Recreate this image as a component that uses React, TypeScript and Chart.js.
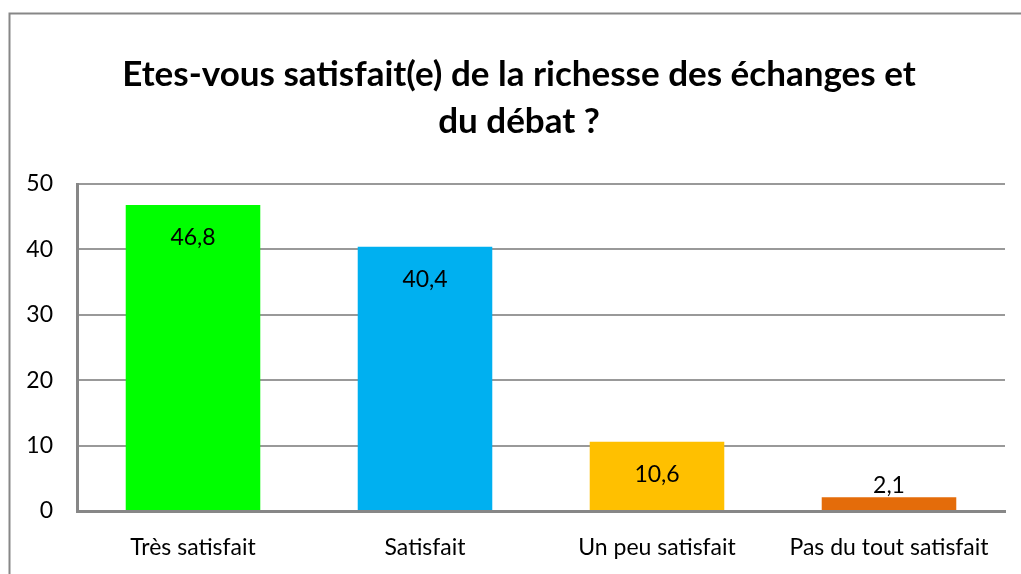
import React, { useEffect, useRef } from "react";
import { Chart, registerables } from "chart.js";

Chart.register(...registerables);

const titleLines = ["Etes-vous satisfait(e) de la richesse des échanges et", "du débat ?"];
const categories = ["Très satisfait", "Satisfait", "Un peu satisfait", "Pas du tout satisfait"];
const values = [46.8, 40.4, 10.6, 2.1];
const valueLabels = ["46,8", "40,4", "10,6", "2,1"];
const barColors = ["#00FF00", "#00B0F0", "#FFC000", "#E46C0A"];
const yTicks = [0, 10, 20, 30, 40, 50];

const FONT = "Lato, 'Open Sans', sans-serif";

const framePlugin = {
  id: "frame",
  beforeDraw(chart: any) {
    const ctx = chart.ctx;
    ctx.save();
    ctx.fillStyle = "#ffffff";
    ctx.fillRect(0, 0, chart.width, chart.height);
    ctx.strokeStyle = "#878787";
    ctx.lineWidth = 2;
    ctx.strokeRect(9.5, 13.5, chart.width + 20, chart.height + 20);
    ctx.font = `bold 35px ${FONT}`;
    ctx.fillStyle = "#000000";
    ctx.textAlign = "center";
    ctx.textBaseline = "middle";
    ctx.fillText(titleLines[0], 519, 75);
    ctx.fillText(titleLines[1], 519, 122);
    ctx.restore();
  },
};

const labelPlugin = {
  id: "valueLabels",
  afterDatasetsDraw(chart: any) {
    const ctx = chart.ctx;
    const meta = chart.getDatasetMeta(0);
    ctx.save();
    ctx.font = `23px ${FONT}`;
    ctx.fillStyle = "#000000";
    ctx.textAlign = "center";
    ctx.textBaseline = "middle";
    meta.data.forEach((bar: any, i: number) => {
      const h = bar.base - bar.y;
      const y = h > 45 ? bar.y + 33 : bar.y - 12;
      ctx.fillText(valueLabels[i], bar.x, y);
    });
    ctx.restore();
  },
};

export default function App() {
  const ref = useRef<HTMLCanvasElement | null>(null);
  useEffect(() => {
    if (!ref.current) return;
    const chart = new Chart(ref.current, {
      type: "bar",
      data: {
        labels: categories,
        datasets: [
          {
            data: values,
            backgroundColor: barColors,
            borderWidth: 0,
            barPercentage: 0.58,
            categoryPercentage: 1,
          },
        ],
      },
      options: {
        responsive: false,
        animation: false,
        layout: { padding: { top: 184, right: 16, bottom: 0, left: 0 } },
        plugins: {
          legend: { display: false },
          tooltip: { enabled: false },
          title: { display: false },
        },
        scales: {
          x: {
            grid: { display: false, drawTicks: false },
            border: { display: true, color: "#878787", width: 3 },
            ticks: { color: "#000000", font: { family: FONT, size: 23 }, padding: 23, maxRotation: 0, autoSkip: false },
            afterFit(scale: any) {
              scale.height = 63;
            },
          },
          y: {
            min: 0,
            max: 50,
            afterBuildTicks(scale: any) {
              scale.ticks = yTicks.map((v) => ({ value: v }));
            },
            grid: { color: "#999999", lineWidth: 2, drawTicks: false },
            border: { display: true, color: "#878787", width: 3 },
            ticks: { color: "#000000", font: { family: FONT, size: 23 }, padding: 24 },
            afterFit(scale: any) {
              scale.width = 77;
            },
          },
        },
      },
      plugins: [framePlugin, labelPlugin],
    });
    return () => chart.destroy();
  }, []);
  return (
    <div style={{ position: "fixed", left: 0, top: 0, width: 1021, height: 574, background: "#fff" }}>
      <canvas ref={ref} width={1021} height={574} style={{ display: "block" }} />
    </div>
  );
}
